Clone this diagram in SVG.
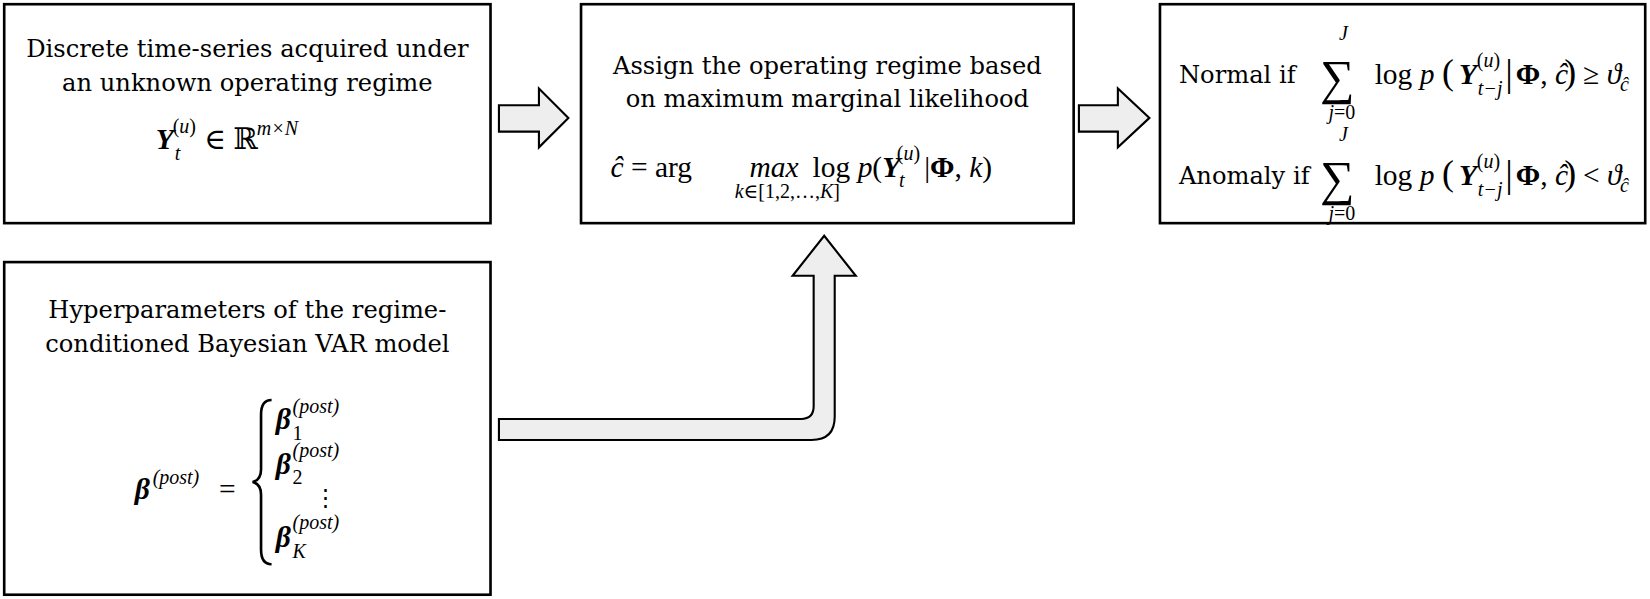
<svg xmlns="http://www.w3.org/2000/svg" width="1650" height="599" viewBox="0 0 1650 599">
<style>
.box{fill:#fff;stroke:#000;stroke-width:2.5}
.arr{fill:#eeeeee;stroke:#000;stroke-width:2}
text{font-family:"DejaVu Serif","Liberation Serif",serif;font-size:23px;fill:#000}
.t{text-anchor:middle}
.m{font-family:"Liberation Serif","DejaVu Serif",serif;font-size:28px}
.i{font-style:italic}
.b{font-weight:bold}
.s{font-size:19px}
.g{font-size:46px}
</style>
<rect width="1650" height="599" fill="#fff"/>
<g transform="scale(1.0526)">
<g id="connectors">
<path class="arr" d="M474,100 H512 V84 L540,112 L512,140 V125 H474 Z"/>
<path class="arr" d="M1025,100 H1062 V84 L1092,112 L1062,140 V125 H1025 Z"/>
<path class="arr" d="M474,398 H761 Q773,398 773,386 V262 H753 L783,224 L813,262 H793 V396 Q793,418 771,418 H474 Z"/>
</g>
<g id="n1">
<rect class="box" x="4" y="4" width="462" height="208"/>
<text class="t" x="235" y="54">Discrete time-series acquired under</text>
<text class="t" x="235" y="86">an unknown operating regime</text>
<text class="m" x="148" y="142"><tspan class="i b">Y</tspan></text>
<text class="m i s" x="166" y="152">t</text>
<text class="m s" x="164" y="126">(<tspan class="i">u</tspan>)</text>
<text class="m" x="194" y="142">∈ ℝ</text>
<text class="m i s" x="244" y="128">m×N</text>
</g>
<g id="n2">
<rect class="box" x="552" y="4" width="468" height="208"/>
<text class="t" x="786" y="70">Assign the operating regime based</text>
<text class="t" x="786" y="102">on maximum marginal likelihood</text>
<text class="m" x="580" y="168"><tspan class="i">ĉ</tspan> = arg</text>
<text class="m i" x="712" y="168">max</text>
<text class="m s" x="698" y="188"><tspan class="i">k</tspan>∈[1,2,…,<tspan class="i">K</tspan>]</text>
<text class="m" x="772" y="168">log <tspan class="i">p</tspan>(<tspan class="i b">Y</tspan></text>
<text class="m i s" x="854" y="178">t</text>
<text class="m s" x="852" y="152">(<tspan class="i">u</tspan>)</text>
<text class="m" x="878" y="168">|<tspan class="b">Φ</tspan>, <tspan class="i">k</tspan>)</text>
</g>
<g id="n3">
<rect class="box" x="1102" y="4" width="461" height="208"/>
<text x="1120" y="79">Normal if</text>
<text x="1120" y="175">Anomaly if</text>
<text class="m g" x="1254" y="89">∑</text>
<text class="m i s" x="1272" y="38">J</text>
<text class="m s" x="1262" y="113"><tspan class="i">j</tspan>=0</text>
<text class="m" x="1306" y="80">log <tspan class="i">p</tspan></text>
<text class="m" x="1370" y="80" style="font-size:34px">(</text>
<text class="m i b" x="1386" y="80">Y</text>
<text class="m i s" x="1404" y="90">t−j</text>
<text class="m s" x="1403" y="64">(<tspan class="i">u</tspan>)</text>
<text class="m" x="1430" y="82" style="font-size:36px">|</text>
<text class="m" x="1440" y="80"><tspan class="b">Φ</tspan>, <tspan class="i">ĉ</tspan></text>
<text class="m" x="1486" y="80" style="font-size:34px">)</text>
<text class="m" x="1504" y="80">≥ <tspan class="i">ϑ</tspan></text>
<text class="m i s" x="1539" y="86">ĉ</text>
<text class="m g" x="1254" y="185">∑</text>
<text class="m i s" x="1272" y="134">J</text>
<text class="m s" x="1262" y="209"><tspan class="i">j</tspan>=0</text>
<text class="m" x="1306" y="176">log <tspan class="i">p</tspan></text>
<text class="m" x="1370" y="176" style="font-size:34px">(</text>
<text class="m i b" x="1386" y="176">Y</text>
<text class="m i s" x="1404" y="186">t−j</text>
<text class="m s" x="1403" y="160">(<tspan class="i">u</tspan>)</text>
<text class="m" x="1430" y="178" style="font-size:36px">|</text>
<text class="m" x="1440" y="176"><tspan class="b">Φ</tspan>, <tspan class="i">ĉ</tspan></text>
<text class="m" x="1486" y="176" style="font-size:34px">)</text>
<text class="m" x="1504" y="176">&lt; <tspan class="i">ϑ</tspan></text>
<text class="m i s" x="1539" y="182">ĉ</text>
</g>
<g id="n4">
<rect class="box" x="4" y="249" width="462" height="316"/>
<text class="t" x="235" y="302">Hyperparameters of the regime-</text>
<text class="t" x="235" y="334">conditioned Bayesian VAR model</text>
<text class="m" x="128" y="474"><tspan class="i b">β</tspan></text>
<text class="m i s" x="145" y="460">(post)</text>
<text class="m" x="208" y="474">=</text>
<path d="M258,380 Q248,380 248,394 V446 Q248,456 240,458 Q248,460 248,470 V522 Q248,536 258,536" fill="none" stroke="#000" stroke-width="2.5"/>
<text class="m b i" x="262" y="408">β</text>
<text class="m s" x="278" y="418">1</text>
<text class="m i s" x="278" y="392">(post)</text>
<text class="m b i" x="262" y="450">β</text>
<text class="m s" x="278" y="460">2</text>
<text class="m i s" x="278" y="434">(post)</text>
<text class="m" x="298" y="480" style="font-size:22px">⋮</text>
<text class="m b i" x="262" y="520">β</text>
<text class="m i s" x="278" y="530">K</text>
<text class="m i s" x="278" y="503">(post)</text>
</g>
</g>
</svg>
